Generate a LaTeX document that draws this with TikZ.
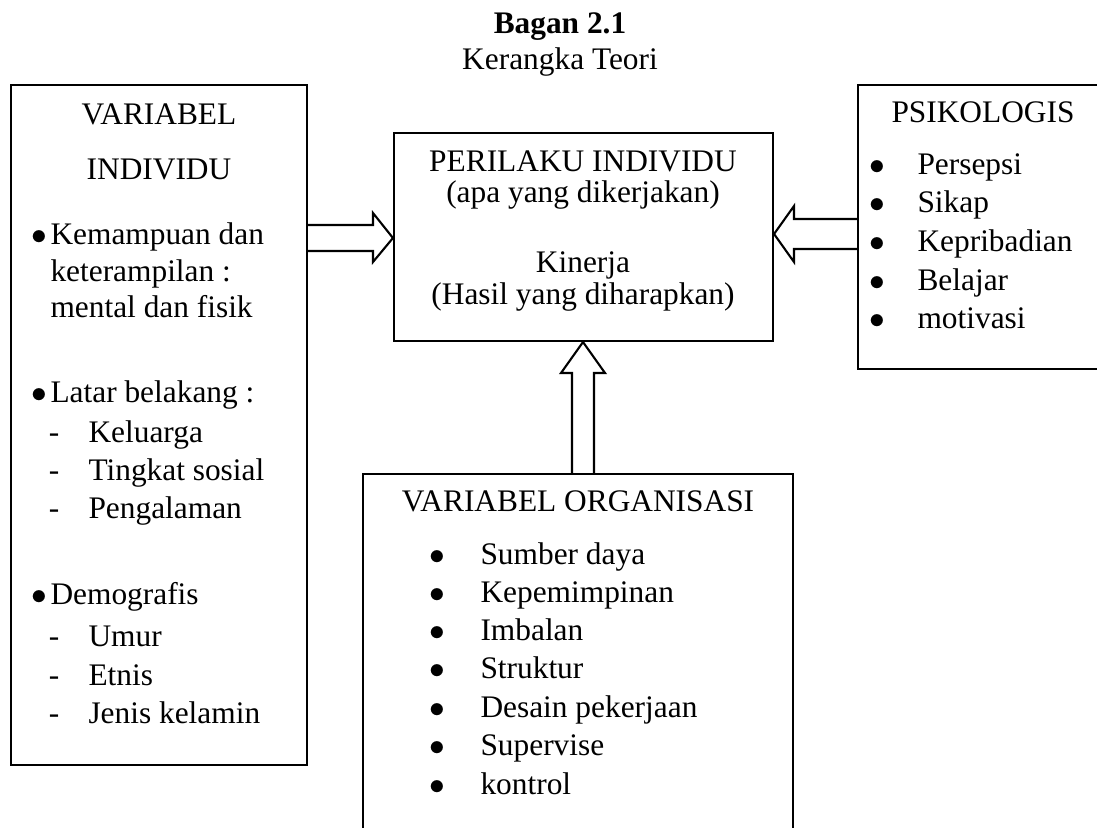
\documentclass[tikz,border=0pt]{standalone}
\usepackage{fontspec}
\setmainfont{Liberation Serif}
\usetikzlibrary{fit}

\begin{document}
\begin{tikzpicture}[x=0.3825pt, y=-0.3825pt,
        every node/.style={font=\fontsize{12}{14}\selectfont, inner sep=0},
        box/.style={draw, line width=0.8pt},
        txt/.style={anchor=base west},
        ctxt/.style={anchor=base},
        blockarrow/.style={draw, line width=0.8pt, line join=miter}]
        \useasboundingbox (0,0) rectangle (1097,827);
        \clip (0,0) rectangle (1097,827);

        \node[ctxt, font=\fontsize{12}{14}\selectfont\bfseries] (judul) at (560,34) {Bagan 2.1};
        \node[ctxt] (subjudul) at (560,70) {Kerangka Teori};

        \node[box, fit={(11,85) (307,765)}] (indiv) {}; %left
        \node[box, fit={(394,133) (773,341)}] (perilaku) {}; %center
        \node[box, fit={(858,85) (1120,369)}] (psiko) {}; %right
        \node[box, fit={(363,474) (793,870)}] (organ) {}; %bottom

        \draw[blockarrow] (indiv.east |- 0,225) -- (373,225) -- (373,213) -- (perilaku.west |- 0,238) -- (373,262) -- (373,251) -- (indiv.east |- 0,251);
        \draw[blockarrow] (psiko.west |- 0,219) -- (794,219) -- (794,206) -- (perilaku.east |- 0,234) -- (794,262) -- (794,249) -- (psiko.west |- 0,249);
        \draw[blockarrow] (organ.north -| 572,0) -- (572,373) -- (561,373) -- (perilaku.south -| 583,0) -- (605,373) -- (594,373) -- (organ.north -| 594,0);

        % left
        \node[ctxt] (ind-a) at (159,125) {VARIABEL};
        \node[ctxt] (ind-b) at (159,180) {INDIVIDU};
        \node[ctxt] (ind-p1) at (39,245) {$\bullet$};
        \node[txt] (ind-1) at (50,245) {Kemampuan dan};
        \node[txt] (ind-1b) at (50,282) {keterampilan :};
        \node[txt] (ind-1c) at (50,317) {mental dan fisik};
        \node[ctxt] (ind-p2) at (39,402) {$\bullet$};
        \node[txt] (ind-2) at (50,402) {Latar belakang :};
        \node[ctxt] (ind-s1) at (54,442) {-};
        \node[txt] (ind-21) at (88,442) {Keluarga};
        \node[ctxt] (ind-s2) at (54,480) {-};
        \node[txt] (ind-22) at (88,480) {Tingkat sosial};
        \node[ctxt] (ind-s3) at (54,518) {-};
        \node[txt] (ind-23) at (88,518) {Pengalaman};
        \node[ctxt] (ind-p3) at (39,604) {$\bullet$};
        \node[txt] (ind-3) at (50,604) {Demografis};
        \node[ctxt] (ind-s4) at (54,646) {-};
        \node[txt] (ind-31) at (88,646) {Umur};
        \node[ctxt] (ind-s5) at (54,685) {-};
        \node[txt] (ind-32) at (88,685) {Etnis};
        \node[ctxt] (ind-s6) at (54,723) {-};
        \node[txt] (ind-33) at (88,723) {Jenis kelamin};

        % center
        \node[ctxt] (per-a) at (583,172) {PERILAKU INDIVIDU};
        \node[ctxt] (per-b) at (583,203) {(apa yang dikerjakan)};
        \node[ctxt] (per-c) at (583,272) {Kinerja};
        \node[ctxt] (per-d) at (583,305) {(Hasil yang diharapkan)};

        % right
        \node[ctxt] (psi-a) at (983,123) {PSIKOLOGIS};
        \node[ctxt] (psi-p1) at (877,175) {$\bullet$};
        \node[txt] (psi-1) at (917,175) {Persepsi};
        \node[ctxt] (psi-p2) at (877,213) {$\bullet$};
        \node[txt] (psi-2) at (917,213) {Sikap};
        \node[ctxt] (psi-p3) at (877,251) {$\bullet$};
        \node[txt] (psi-3) at (917,251) {Kepribadian};
        \node[ctxt] (psi-p4) at (877,290) {$\bullet$};
        \node[txt] (psi-4) at (917,290) {Belajar};
        \node[ctxt] (psi-p5) at (877,328) {$\bullet$};
        \node[txt] (psi-5) at (917,328) {motivasi};

        % bottom
        \node[ctxt] (org-a) at (578,511) {VARIABEL ORGANISASI};
        \node[ctxt] (org-p1) at (437,564) {$\bullet$};
        \node[txt] (org-1) at (480,564) {Sumber daya};
        \node[ctxt] (org-p2) at (437,602) {$\bullet$};
        \node[txt] (org-2) at (480,602) {Kepemimpinan};
        \node[ctxt] (org-p3) at (437,640) {$\bullet$};
        \node[txt] (org-3) at (480,640) {Imbalan};
        \node[ctxt] (org-p4) at (437,678) {$\bullet$};
        \node[txt] (org-4) at (480,678) {Struktur};
        \node[ctxt] (org-p5) at (437,717) {$\bullet$};
        \node[txt] (org-5) at (480,717) {Desain pekerjaan};
        \node[ctxt] (org-p6) at (437,755) {$\bullet$};
        \node[txt] (org-6) at (480,755) {Supervise};
        \node[ctxt] (org-p7) at (437,794) {$\bullet$};
        \node[txt] (org-7) at (480,794) {kontrol};
\end{tikzpicture}
\end{document}
